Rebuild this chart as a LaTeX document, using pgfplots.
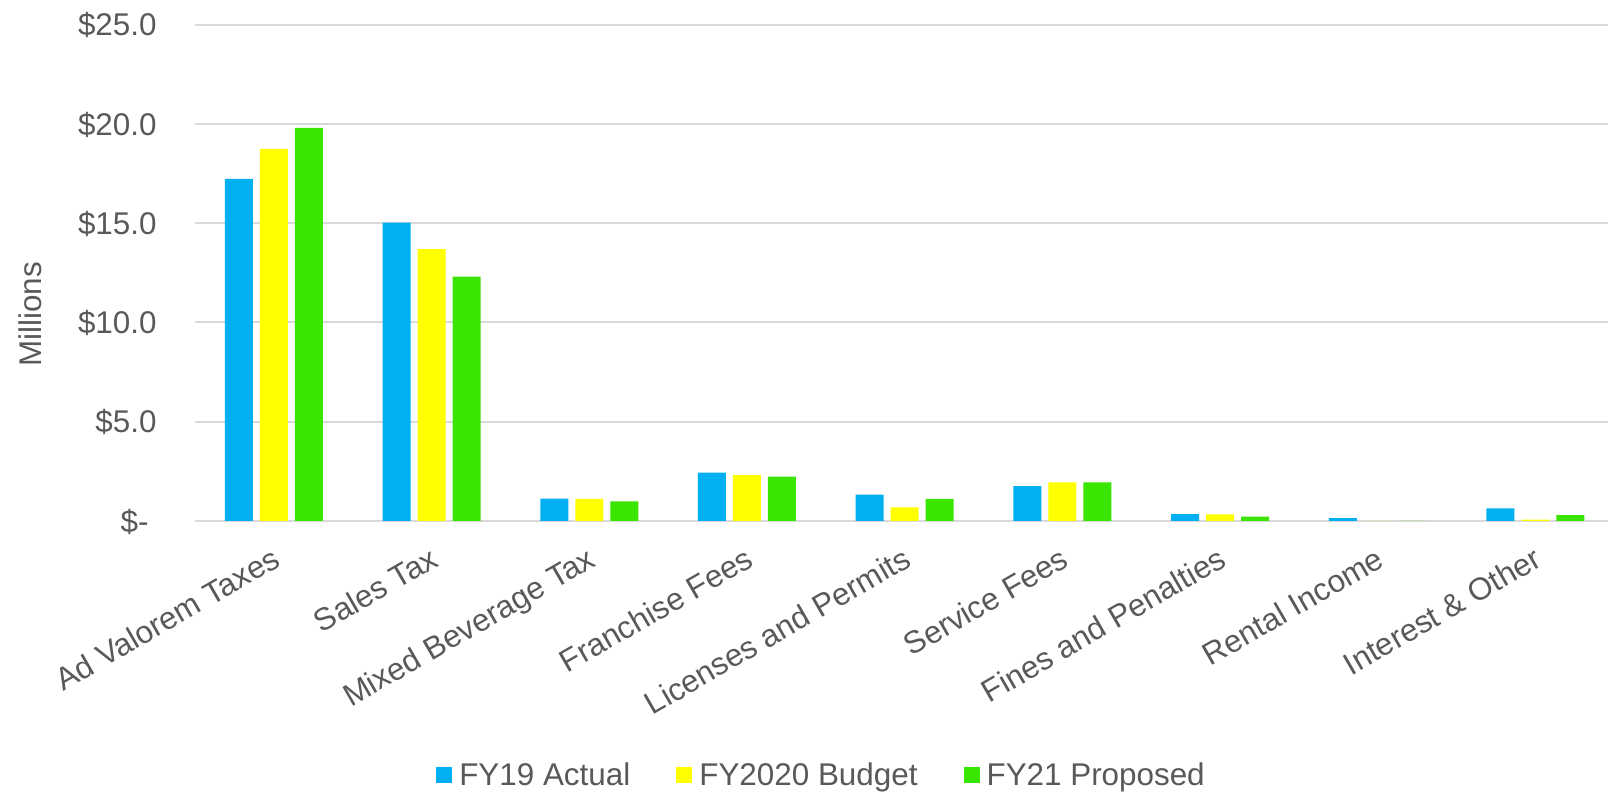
\documentclass[border=0pt]{standalone}
\usepackage{pgfplots}
\pgfplotsset{compat=1.18}
\usepackage{fontspec}
\setmainfont{Liberation Sans}
\definecolor{cblue}{HTML}{00B0F0}
\definecolor{cyellow}{HTML}{FFFF00}
\definecolor{cgreen}{HTML}{3AE600}
\definecolor{tgray}{HTML}{595959}
\definecolor{ggray}{HTML}{D9D9D9}
\newcommand{\chartfont}{\fontsize{15.7}{18}\selectfont}
\begin{document}
\begin{tikzpicture}
\path[use as bounding box] (0,0) rectangle (804pt,398pt);
\begin{axis}[
  at={(97.5pt,137.5pt)}, anchor=south west,
  scale only axis,
  width=706.5pt, height=248.2pt,
  ybar=3.5pt, bar width=14pt,
  xmin=-0.5, xmax=8.46,
  ymin=0, ymax=25,
  ytick={0,5,10,15,20,25},
  yticklabels={\$-\hspace*{4pt},\$5.0,\$10.0,\$15.0,\$20.0,\$25.0},
  xtick={0,1,2,3,4,5,6,7,8},
  xticklabels={Ad Valorem Taxes,Sales Tax,Mixed Beverage Tax,Franchise Fees,Licenses and Permits,Service Fees,Fines and Penalties,Rental Income,Interest \& Other},
  major tick length=0pt,
  axis line style={draw=none},
  ymajorgrids,
  major grid style={draw=ggray, line width=1pt},
  tick label style={font=\chartfont, text=tgray},
  yticklabel style={anchor=base east, inner sep=0pt, xshift=-19pt, yshift=-5.6pt},
  xticklabel style={inner sep=0pt, xshift=-1.5pt, yshift=-12pt, rotate=30, anchor=north east},
  ylabel={Millions},
  ylabel style={font=\chartfont, text=tgray, at={(axis description cs:0,0.416)}, anchor=center, yshift=82.5pt},
  legend columns=3,
  legend style={draw=none, font=\chartfont, text=tgray, inner sep=0pt,
    at={(axis description cs:0.4427,-0.5127)}, anchor=center,
    /tikz/every odd column/.append style={column sep=3.5pt},
    /tikz/every even column/.append style={column sep=23pt},
    nodes={inner sep=0pt}},
  legend image code/.code={\fill[#1] (0pt,-4pt) rectangle (8pt,4pt);},
]
\addplot[fill=cblue, draw=none] coordinates {(0,17.23) (1,15.03) (2,1.13) (3,2.44) (4,1.33) (5,1.75) (6,0.34) (7,0.14) (8,0.63)};
\addplot[fill=cyellow, draw=none] coordinates {(0,18.74) (1,13.69) (2,1.11) (3,2.31) (4,0.69) (5,1.94) (6,0.33) (7,0) (8,0.07)};
\addplot[fill=cgreen, draw=none] coordinates {(0,19.80) (1,12.31) (2,0.99) (3,2.24) (4,1.11) (5,1.95) (6,0.22) (7,0) (8,0.29)};
\legend{FY19 Actual, FY2020 Budget, FY21 Proposed}
\end{axis}
\end{tikzpicture}
\end{document}
